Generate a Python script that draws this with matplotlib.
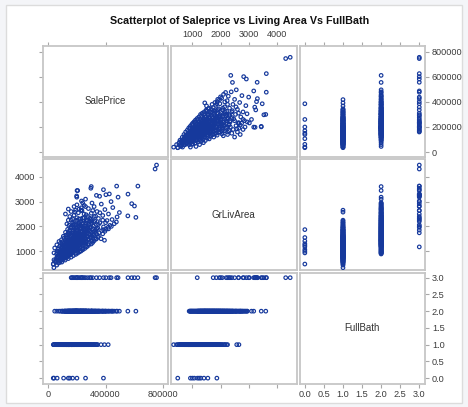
import matplotlib
matplotlib.use("Agg")
import matplotlib.pyplot as plt
from matplotlib.patches import Rectangle

plt.rcParams['font.family'] = ['Liberation Sans', 'DejaVu Sans']

# Houses grouped by number of full bathrooms: living area (sq ft) and sale price ($)
bath0_area = [480, 930, 1000, 1070, 1180, 1240, 1300, 1410, 1550, 1870]
bath0_price = [35000, 40000, 62000, 107000, 140000, 150000, 170000, 200000, 260000, 385000]

bath1_area = [
    334, 438, 480, 520, 540, 572, 605,
    616, 630, 660, 672, 694, 708, 720, 735, 747, 756, 773, 784, 796,
    803, 816, 832, 845, 855, 864, 864, 876, 882, 894, 904, 912, 925, 936, 948, 960, 968, 980, 990, 996,
    1008, 1020, 1032, 1040, 1052, 1064, 1072, 1086, 1094, 1104, 1116, 1128, 1136, 1148, 1158, 1168, 1180, 1192,
    1204, 1218, 1226, 1240, 1252, 1266, 1278, 1290, 1302, 1316, 1328, 1340, 1352, 1368, 1382, 1394,
    1410, 1422, 1436, 1440, 1452, 1468, 1484, 1500, 1502, 1520, 1536, 1552, 1570, 1590, 1610, 1632, 1654, 1680,
    1700, 1728, 1752, 1780, 1810, 1840, 1872, 1900, 1940, 1966, 1976, 2010, 2060, 2110, 2160, 2217, 2576, 2654,
    560, 590, 640, 650, 700, 730, 760, 790, 820, 840, 870, 890, 920, 940, 970, 1000, 1010, 1045, 1060, 1090,
    1110, 1140, 1170, 1200, 1230, 1260, 1290, 1320, 1350, 1380, 1420, 1460, 1490, 1530, 1560, 1600, 1650,
    1700, 1760, 1820, 1880, 1950, 2050, 2150, 2250,
    880, 950, 1020, 1100, 1150, 1250, 1300, 1350, 1400, 1450, 1550, 1600, 1650, 1750, 1850,
    700, 740, 780, 810, 830, 850, 870, 900, 910, 930, 955, 975, 995, 1015, 1035, 1055, 1075, 1095, 1120, 1145,
    1165, 1185, 1210, 1235, 1260, 1285, 1310, 1335, 1360, 1390, 1430, 1470, 1510, 1545, 1580, 1620, 1660,
    1720, 1790, 1860,
]
bath1_price = [
    39300, 60000, 35300, 68500, 79000, 52000, 87000,
    76500, 55000, 98000, 84000, 107000, 62500, 119000, 91000, 129000, 100000, 72000, 114000, 138000,
    88000, 124000, 106500, 149000, 97000, 118000, 132000, 82000, 158000, 112000, 139000, 125500, 102000, 167000,
    131000, 144000, 118500, 176000, 109000, 154000,
    135000, 127000, 186000, 148000, 115000, 162000, 139500, 198000, 129000, 171000, 150000, 210000, 141000,
    182000, 120000, 159000, 224000, 137000,
    190000, 166000, 144000, 238000, 175000, 153000, 205000, 128000, 185000, 250000, 162000, 215000, 140000,
    195000, 265000, 172000,
    228000, 150000, 205000, 392000, 278000, 182000, 240000, 160000, 368000, 256000, 198000, 292000, 175000,
    222000, 305000, 190000, 248000, 318000,
    210000, 270000, 330000, 235000, 290000, 200000, 260000, 338000, 225000, 418000, 300000, 250000, 280000,
    215000, 320000, 265000, 185000, 228000,
    95000, 45000, 118000, 40000, 140000, 58000, 160000, 65000, 175000, 70000, 192000, 58000, 205000, 75000,
    218000, 68000, 230000, 85000, 242000, 72000,
    255000, 90000, 268000, 80000, 280000, 95000, 300000, 85000, 310000, 100000, 320000, 92000, 335000, 110000,
    345000, 105000, 125000,
    140000, 120000, 150000, 135000, 160000, 145000, 170000, 160000,
    145000, 160000, 175000, 185000, 200000, 215000, 230000, 245000, 260000, 200000, 230000, 270000, 210000,
    250000, 280000,
    95000, 110000, 125000, 100000, 140000, 115000, 130000, 95000, 150000, 120000, 135000, 100000, 160000,
    112000, 145000, 170000, 105000, 155000, 130000, 165000,
    100000, 150000, 125000, 180000, 140000, 160000, 110000, 175000, 125000, 190000, 135000, 165000, 140000,
    180000, 150000, 200000, 165000,
    185000, 170000, 195000,
]

bath2_area = [
    886, 912, 936, 960, 985, 1008, 1032, 1056, 1080, 1104, 1128, 1152, 1176, 1196,
    1212, 1226, 1240, 1256, 1268, 1282, 1296, 1310, 1324, 1338, 1352, 1366, 1378, 1392,
    1404, 1414, 1424, 1436, 1446, 1458, 1470, 1480, 1492, 1504, 1516, 1528, 1540, 1552, 1564, 1576, 1588, 1598,
    1610, 1622, 1634, 1646, 1658, 1670, 1682, 1694, 1706, 1718, 1730, 1742, 1754, 1766, 1778, 1790,
    1802, 1814, 1828, 1840, 1854, 1868, 1880, 1894, 1908, 1922, 1936, 1950, 1964, 1978, 1992,
    2008, 2024, 2040, 2056, 2072, 2090, 2108, 2126, 2144, 2162, 2180, 2198, 2216, 2236, 2256, 2276, 2296,
    2320, 2345, 2364, 2380, 2400, 2424, 2440, 2470, 2500, 2530, 2560, 2600, 2640, 2680, 2720, 2760, 2800,
    2850, 2900, 2942, 3180, 3447, 3608,
    920, 960, 1000, 1050, 1100, 1150, 1200, 1250, 1300, 1350, 1400, 1450, 1500, 1550, 1600, 1650, 1700, 1750,
    1800, 1850, 1900, 1950, 2000, 2050, 2100, 2150, 2200, 2250, 2300, 2350, 2450, 2550, 2650, 2700, 2750,
    2870, 2950, 3100,
    1300, 1350, 1420, 1480, 1550, 1620, 1700, 1780, 1860, 1930, 2000, 2080, 2150, 2230, 2330, 2420, 2550,
    1180, 1220, 1260, 1290, 1330, 1370, 1410, 1440, 1470, 1510, 1540, 1580, 1620, 1660, 1700, 1740, 1780,
    1820, 1860, 1900, 1940, 1980, 2020, 2060, 2100, 2140, 2200, 2250, 2300, 2400, 2500, 2600, 2800, 2700,
]
bath2_price = [
    118000, 145000, 98000, 160000, 132000, 176000, 112000, 150000, 189000, 140000, 45000, 168000, 205000, 128000,
    182000, 155000, 220000, 60000, 172000, 198000, 145000, 235000, 185000, 160000, 210000, 250000, 176000, 75000,
    228000, 192000, 165000, 265000, 205000, 180000, 240000, 152000, 280000, 215000, 190000, 255000, 170000,
    300000, 225000, 198000, 270000, 158000,
    240000, 210000, 315000, 185000, 260000, 228000, 340000, 200000, 282000, 245000, 172000, 355000, 215000,
    298000, 262000, 190000,
    325000, 235000, 372000, 205000, 280000, 250000, 402000, 220000, 310000, 268000, 345000, 195000, 290000,
    385000, 240000,
    315000, 262000, 430000, 210000, 335000, 285000, 460000, 240000, 360000, 305000, 475000, 225000, 325000,
    410000, 270000, 445000, 300000,
    350000, 250000, 611000, 480000, 320000, 555000, 380000, 265000, 420000, 300000, 496000, 340000, 230000,
    395000, 280000, 450000, 320000, 250000, 370000, 305000, 199000, 201000, 300000,
    190000, 85000, 220000, 95000, 240000, 100000, 260000, 110000, 285000, 115000, 305000, 120000, 330000,
    125000, 350000, 135000, 380000, 140000,
    395000, 150000, 420000, 160000, 440000, 170000, 180000, 400000, 190000, 380000, 170000, 200000, 180000,
    210000, 190000, 215000, 230000,
    200000, 240000, 260000,
    200000, 225000, 240000, 260000, 200000, 275000, 230000, 310000, 330000, 250000, 280000, 350000, 260000,
    300000, 290000, 330000, 360000,
    150000, 170000, 135000, 190000, 150000, 195000, 140000, 210000, 170000, 230000, 180000, 245000, 160000,
    200000, 250000, 185000, 225000,
    270000, 200000, 245000, 180000, 215000, 230000, 195000, 130000, 215000, 250000, 140000, 225000, 150000,
    120000, 160000, 180000, 140000,
]

bath3_area = [
    4476, 4316, 3627, 2822, 2917, 3302, 3180, 3626, 3000, 3310, 3279, 3482, 3216, 3252, 2640, 3540, 2200,
    2400, 2800, 2500, 2340, 2640, 3025, 2060, 2300, 3446, 2250, 3228, 1172, 1960, 1850, 1740, 2000,
]
bath3_price = [
    755000, 745000, 625000, 601000, 582000, 556000, 487000, 477000, 438000, 426000, 402000, 385000, 358000,
    336000, 310000, 297000, 290000, 275000, 260000, 250000, 240000, 235000, 232000, 225000, 215000, 205000,
    200000, 198000, 190000, 180000, 172000, 165000, 160000,
]

sale_price = bath0_price + bath1_price + bath2_price + bath3_price
gr_liv_area = bath0_area + bath1_area + bath2_area + bath3_area
full_bath = ([0] * len(bath0_area) + [1] * len(bath1_area)
             + [2] * len(bath2_area) + [3] * len(bath3_area))

var_names = ["SalePrice", "GrLivArea", "FullBath"]
var_values = [sale_price, gr_liv_area, full_bath]

# axis settings per variable
x_limits = [(-40000, 835000), (240, 4700), (-0.14, 3.15)]
y_limits = [(-35000, 845000), (240, 4700), (-0.16, 3.14)]
x_ticks = [[0, 400000, 800000], [1000, 2000, 3000, 4000], [0, 0.5, 1, 1.5, 2, 2.5, 3]]
y_ticks = [[0, 200000, 400000, 600000, 800000], [1000, 2000, 3000, 4000], [0, 0.5, 1, 1.5, 2, 2.5, 3]]
formats = ["{:.0f}", "{:.0f}", "{:.1f}"]

W, H = 468, 407
fig = plt.figure(figsize=(W / 100, H / 100), dpi=100)
fig.patch.set_facecolor("#f4f5f8")
frame = Rectangle((6 / W, 1 - 403 / H), 456 / W, 398 / H, transform=fig.transFigure,
                  facecolor="white", edgecolor="#dcdcdc", linewidth=1.0, zorder=-5)
fig.patches.append(frame)

col_left = [42.5, 171, 299.5]
row_top = [46, 159.5, 273]
pw, ph = 125.5, 110.5

marker_color = "#16399c"
spine_color = "#c6c6c6"
tick_color = "#a8a8a8"
label_color = "#3c3c3c"

for i in range(3):
    for j in range(3):
        ax = fig.add_axes([col_left[j] / W, 1 - (row_top[i] + ph) / H, pw / W, ph / H])
        ax.set_zorder(1)
        ax.patch.set_facecolor("white")
        ax.set_xlim(*x_limits[j])
        ax.set_ylim(*y_limits[i])
        for s in ax.spines.values():
            s.set_color(spine_color)
            s.set_linewidth(1.3)
        if i == j:
            ax.text(0.5, 0.5, var_names[i], transform=ax.transAxes, ha="center", va="center",
                    fontsize=7, color="#333333")
        else:
            ax.scatter(var_values[j], var_values[i], s=6.5, facecolors="none",
                       edgecolors=marker_color, linewidths=0.85, zorder=3)

        ax.set_xticks(x_ticks[j])
        ax.set_xticklabels([formats[j].format(v) for v in x_ticks[j]])
        ax.set_yticks(y_ticks[i])
        ax.set_yticklabels([formats[i].format(v) for v in y_ticks[i]])

        ax.tick_params(axis="both", direction="out", length=3.2, width=0.8, color=tick_color,
                       labelsize=6.6, labelcolor=label_color, pad=1.8,
                       top=(i == 0), bottom=(i == 2), left=(j == 0), right=(j == 2),
                       labeltop=(i == 0 and j % 2 == 1), labelbottom=(i == 2 and j % 2 == 0),
                       labelleft=(j == 0 and i % 2 == 1), labelright=(j == 2 and i % 2 == 0))

fig.text(240 / W, 1 - 21 / H, "Scatterplot of Saleprice vs Living Area Vs FullBath",
         ha="center", va="center", fontsize=7.75, fontweight="bold", color="#111111", zorder=2)

fig.savefig("out.png", dpi=100, facecolor=fig.get_facecolor())
